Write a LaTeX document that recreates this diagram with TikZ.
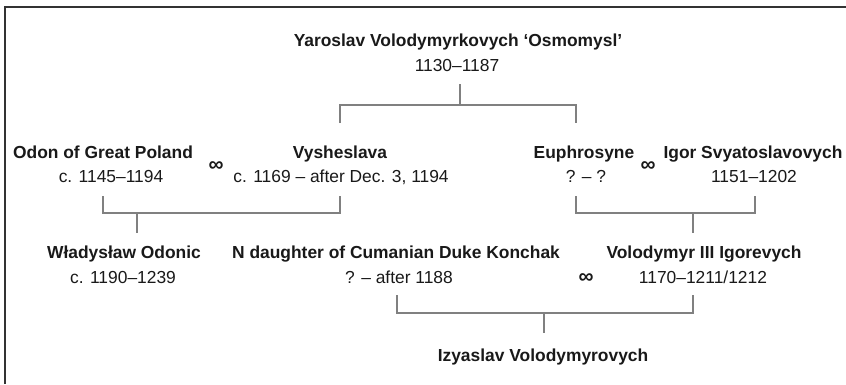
\documentclass[tikz,border=0pt]{standalone}
\usepackage{fontspec}
\setmainfont{Liberation Sans}
\begin{document}
\begin{tikzpicture}[x=1pt,y=-1pt,
  nm/.style={font=\fontsize{17.4}{19}\selectfont\bfseries, inner sep=0pt, anchor=base, text=black!90},
  dt/.style={font=\fontsize{17.4}{19}\selectfont, inner sep=0pt, anchor=base, text=black!90},
  inf/.style={font=\fontsize{21}{23}\selectfont\bfseries, inner sep=0pt, text=black!90},
  conn/.style={draw=black!50, line width=1.8pt},
  frame/.style={draw=black!80, line width=2pt}]
\useasboundingbox (0,0) rectangle (846,384);
\coordinate (fb) at (4.5,384);
\coordinate (fc) at (4.5,7);
\coordinate (fr) at (846,7);
\draw[frame] (fb) -- (fc) -- (fr);

% generation 1
\node[nm] (yaro) at (458,46) {Yaroslav Volodymyrkovych ‘Osmomysl’};
\node[dt] (yarod) at (457,71) {1130–1187};

% generation 2
\node[nm] (odon) at (103,158) {Odon of Great Poland};
\node[dt] (odond) at (111,182) {c. 1145–1194};
\node[inf] (m1) at (216,167) {∞};
\node[nm] (vysh) at (340,158) {Vysheslava};
\node[dt] (vyshd) at (341,182) {c. 1169 – after Dec. 3, 1194};
\node[nm] (euph) at (584,158) {Euphrosyne};
\node[dt] (euphd) at (586,182) {? – ?};
\node[inf] (m2) at (648,167) {∞};
\node[nm] (igor) at (753,158) {Igor Svyatoslavovych};
\node[dt] (igord) at (754,182) {1151–1202};

% generation 3
\node[nm] (wlad) at (124,258) {Władysław Odonic};
\node[dt] (wladd) at (123,283) {c. 1190–1239};
\node[nm] (ndau) at (396,258) {N daughter of Cumanian Duke Konchak};
\node[dt] (ndaud) at (399,283) {? – after 1188};
\node[inf] (m3) at (586,279) {∞};
\node[nm] (volo) at (704,258) {Volodymyr III Igorevych};
\node[dt] (volod) at (703,283) {1170–1211/1212};

% generation 4
\node[nm] (izya) at (543,361) {Izyaslav Volodymyrovych};

% connectors
\coordinate (a0) at (460,84);
\coordinate (a1) at (460,105);
\coordinate (a2) at (340,123);
\coordinate (a3) at (576,123);
\draw[conn] (a0) -- (a1);
\draw[conn] (a2) -- (a2 |- a1) -- (a3 |- a1) -- (a3);

\coordinate (b1) at (103,196);
\coordinate (b2) at (340,196);
\coordinate (bj) at (137,213);
\coordinate (bc) at (137,233);
\draw[conn] (b1) -- (b1 |- bj) -- (b2 |- bj) -- (b2);
\draw[conn] (bj) -- (bc);

\coordinate (c1) at (576,196);
\coordinate (c2) at (755,196);
\coordinate (cj) at (693,213);
\coordinate (cc) at (693,233);
\draw[conn] (c1) -- (c1 |- cj) -- (c2 |- cj) -- (c2);
\draw[conn] (cj) -- (cc);

\coordinate (d1) at (397,295);
\coordinate (d2) at (693,295);
\coordinate (dj) at (544,313);
\coordinate (dc) at (544,333);
\draw[conn] (d1) -- (d1 |- dj) -- (d2 |- dj) -- (d2);
\draw[conn] (dj) -- (dc);
\end{tikzpicture}
\end{document}
